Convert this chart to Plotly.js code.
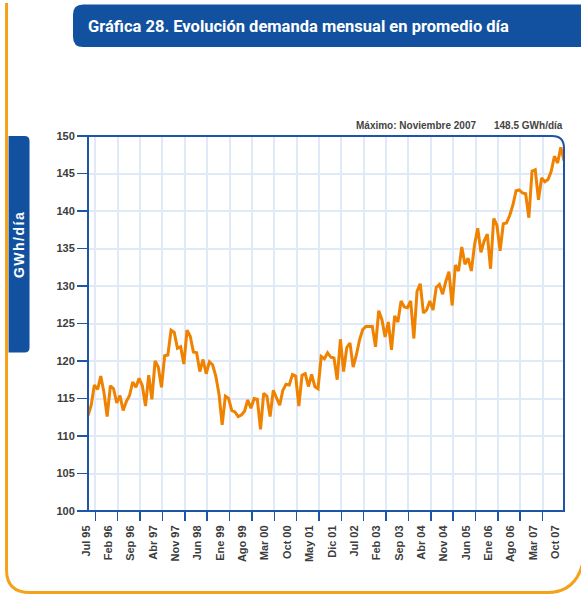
<!DOCTYPE html>
<html>
<head>
<meta charset="utf-8">
<script src="https://cdn.plot.ly/plotly-3.0.1.min.js"></script>
<style>
  html, body { margin: 0; padding: 0; background: #ffffff; }
  #chart { width: 581px; height: 595px; }
</style>
</head>
<body>
<div id="chart"></div>
<script>
// Monthly demand, daily average (GWh/día), Jul 1995 .. Dic 2007
const startMonth = "Jul 1995";
const demandGWh = [
  112.7, 114.1, 116.8, 116.2, 118.0, 115.8, 112.6, 116.7, 116.3, 114.4,
  115.4, 113.4, 114.6, 115.4, 117.2, 116.5, 117.7, 116.7, 114.0, 118.1,
  114.9, 120.0, 119.2, 116.5, 120.7, 120.8, 124.1, 123.8, 121.7, 121.9,
  119.6, 124.1, 123.3, 121.2, 121.1, 118.6, 120.2, 118.3, 119.9, 119.5,
  118.0, 115.6, 111.5, 115.3, 115.0, 113.4, 113.2, 112.6, 112.8, 113.3,
  114.8, 113.7, 115.0, 114.9, 110.9, 115.7, 115.3, 112.6, 116.1, 115.1,
  114.1, 116.1, 116.9, 116.8, 118.2, 118.0, 114.0, 118.1, 118.3, 116.6,
  118.2, 116.6, 116.3, 120.6, 120.3, 121.1, 120.5, 120.4, 117.5, 122.9,
  118.6, 121.8, 122.4, 119.2, 120.8, 122.8, 124.2, 124.6, 124.6, 124.6,
  121.9, 126.7, 125.5, 123.2, 125.2, 121.5, 126.0, 125.2, 128.0, 127.2,
  127.1, 128.0, 123.0, 129.3, 130.3, 126.4, 126.8, 128.0, 126.8, 129.8,
  130.2, 128.9, 130.6, 131.9, 127.4, 132.8, 132.0, 135.2, 132.9, 133.7,
  132.0, 135.5, 137.7, 134.5, 136.0, 136.9, 132.3, 139.0, 138.1, 134.7,
  138.3, 138.4, 139.4, 140.8, 142.7, 142.8, 142.4, 142.3, 139.1, 145.3,
  145.5, 141.5, 144.4, 143.9, 144.2, 145.3, 147.3, 146.4, 148.5, 146.7
];
const tickLabels = [
  "Jul 95", "Feb 96", "Sep 96", "Abr 97", "Nov 97", "Jun 98", "Ene 99", "Ago 99",
  "Mar 00", "Oct 00", "May 01", "Dic 01", "Jul 02", "Feb 03", "Sep 03", "Abr 04",
  "Nov 04", "Jun 05", "Ene 06", "Ago 06", "Mar 07", "Oct 07"
];
const yTicks = [100, 105, 110, 115, 120, 125, 130, 135, 140, 145, 150];
const titleText = "Gráfica 28. Evolución demanda mensual en promedio día";
const yTitle = "GWh/día";
const maxLabel = "Máximo: Noviembre 2007";
const maxValueLabel = "148.5 GWh/día";

const monthIndex = demandGWh.map((_, i) => i);
const labelStep = 7;
const labelVals = tickLabels.map((_, k) => k * labelStep);
// tick marks / vertical grid sit between labels
const markVals = tickLabels.slice(1).map((_, k) => k * labelStep + 2.3);

// plot area in pixels
const L = 88, R = 564.3, T = 136, B = 511;
const W = R - L, H = B - T;
const px = x => (x - L) / W;
const py = y => (B - y) / H;
const P = (x, y) => px(x).toFixed(5) + " " + py(y).toFixed(5);

const BLUE = "#12519f";
const AXIS = "#1d56a6";
const ORANGE_LINE = "#ef8200";
const ORANGE_FRAME = "#f5a21b";
const GRID = "#dfe9f7";
const TXT = "#3c3c3c";
const FONT = "Liberation Sans, Arial, sans-serif";

const trace = {
  x: monthIndex,
  y: demandGWh,
  type: "scatter",
  mode: "lines",
  line: { color: ORANGE_LINE, width: 3 },
  hoverinfo: "skip"
};

const shapes = [
  // outer orange frame
  { type: "path", xref: "paper", yref: "paper", layer: "above",
    path: "M " + P(6.5, 3) + " L " + P(6.5, 570) + " Q " + P(6.5, 592.5) + " " + P(30, 592.5) +
          " L " + P(548, 592.5) + " Q " + P(580, 592.5) + " " + P(585, 553),
    line: { color: ORANGE_FRAME, width: 3 } },
  // title box
  { type: "path", xref: "paper", yref: "paper", layer: "above",
    path: "M " + P(600, 4.5) + " L " + P(83, 4.5) + " Q " + P(73, 4.5) + " " + P(73, 14.5) +
          " L " + P(73, 37) + " Q " + P(73, 47) + " " + P(83, 47) + " L " + P(600, 47) + " Z",
    fillcolor: BLUE, line: { width: 0 } },
  // y title box
  { type: "path", xref: "paper", yref: "paper", layer: "above",
    path: "M " + P(8.5, 136) + " L " + P(24.5, 136) + " Q " + P(29.5, 136) + " " + P(29.5, 141) +
          " L " + P(29.5, 347.5) + " Q " + P(29.5, 352.5) + " " + P(24.5, 352.5) + " L " + P(8.5, 352.5) + " Z",
    fillcolor: BLUE, line: { width: 0 } },
  // plot frame with rounded top-right corner
  { type: "path", xref: "paper", yref: "paper", layer: "above",
    path: "M " + P(L, B) + " L " + P(L, T) + " L " + P(R - 12, T) + " Q " + P(R, T) + " " + P(R, T + 12) +
          " L " + P(R, B) + " Z",
    line: { color: AXIS, width: 2 } }
];

const annotations = [
  { xref: "paper", yref: "paper", x: px(86), y: py(26), xanchor: "left", yanchor: "middle",
    text: "<b>" + titleText + "</b>", showarrow: false,
    font: { family: "Roboto, Arial, sans-serif", size: 16.5, color: "#ffffff" } },
  { xref: "paper", yref: "paper", x: px(19), y: py(245), xanchor: "center", yanchor: "middle",
    textangle: -90, showarrow: false,
    text: "<b><span style=\"letter-spacing:1.5px\">" + yTitle + "</span></b>",
    font: { family: FONT, size: 14, color: "#ffffff" } },
  { xref: "paper", yref: "paper", x: px(478.5), y: py(125.5), xanchor: "right", yanchor: "middle",
    text: "<b>" + maxLabel + "</b>", showarrow: false,
    font: { family: FONT, size: 10, color: "#444444" } },
  { xref: "paper", yref: "paper", x: px(565), y: py(125.5), xanchor: "right", yanchor: "middle",
    text: "<b>" + maxValueLabel + "</b>", showarrow: false,
    font: { family: FONT, size: 10, color: "#444444" } }
];

const layout = {
  width: 581, height: 595,
  margin: { l: L, r: 581 - R, t: T, b: 595 - B, pad: 0 },
  paper_bgcolor: "#ffffff",
  plot_bgcolor: "#ffffff",
  showlegend: false,
  font: { family: FONT, color: TXT },
  xaxis: {
    range: [0, demandGWh.length - 1],
    tickmode: "array",
    tickvals: labelVals,
    ticktext: tickLabels,
    tickangle: -90,
    ticklabelshift: -2,
    ticks: "outside", ticklen: 9, tickwidth: 1, tickcolor: "rgba(0,0,0,0)",
    showgrid: false,
    minor: {
      tickmode: "array", tickvals: markVals,
      ticks: "outside", ticklen: 9, tickwidth: 1.5, tickcolor: AXIS,
      showgrid: true, gridcolor: GRID, gridwidth: 2
    },
    showline: false, zeroline: false,
    tickfont: { family: FONT, size: 11, color: TXT, weight: "bold" }
  },
  yaxis: {
    range: [100, 150],
    tickmode: "array",
    tickvals: yTicks,
    ticktext: yTicks.map(String),
    ticks: "outside", ticklen: 10, tickwidth: 1.5, tickcolor: AXIS,
    showgrid: true, gridcolor: GRID, gridwidth: 2,
    showline: false, zeroline: false,
    tickfont: { family: FONT, size: 11, color: TXT, weight: "bold" }
  },
  shapes: shapes,
  annotations: annotations
};

Plotly.newPlot("chart", [trace], layout, { displayModeBar: false, staticPlot: true });
</script>
</body>
</html>
